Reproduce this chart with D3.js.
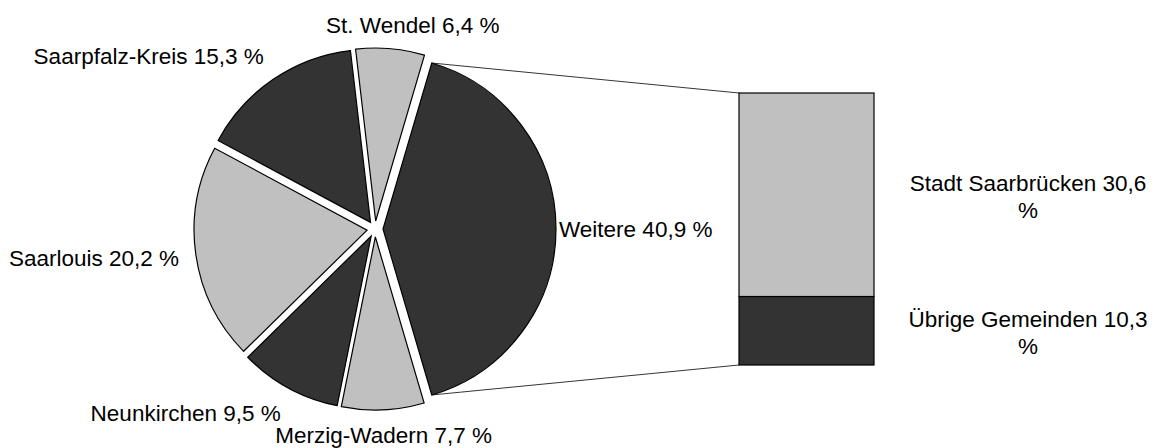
<!DOCTYPE html>
<html>
  <head>
    <meta charset="UTF-8" />
    <script src="https://d3js.org/d3.v7.min.js"></script>
    <style>
      body { margin: 0; background: #fff; }
      svg { font-family: "Liberation Sans", Arial, sans-serif; }
      .label { font-size: 22.5px; fill: #000; }
    </style>
  </head>
  <body>
    <div id="chart"></div>
    <script>
      // pie slices (clockwise, starting with the split-off slice)
      var pieNames  = ["Weitere", "Merzig-Wadern", "Neunkirchen", "Saarlouis", "Saarpfalz-Kreis", "St. Wendel"];
      var pieValues = [40.9, 7.7, 9.5, 20.2, 15.3, 6.4];
      var pieLabels = ["40,9", "7,7", "9,5", "20,2", "15,3", "6,4"];

      // stacked bar for "Weitere" (bottom to top)
      var barNames  = ["Übrige Gemeinden", "Stadt Saarbrücken"];
      var barValues = [10.3, 30.6];
      var barLabels = ["10,3", "30,6"];

      var width = 1162, height = 448;
      var cx = 375, cy = 229, radius = 173, explode = 8;
      var dark = "#333333", light = "#c0c0c0";

      var svg = d3.select("#chart").append("svg")
        .attr("width", width)
        .attr("height", height);

      /* Pie */
      var total = d3.sum(pieValues);
      var half = Math.PI * pieValues[0] / total;
      var pie = d3.pie().sort(null)
        .startAngle(Math.PI / 2 - half)
        .endAngle(Math.PI / 2 - half + 2 * Math.PI);
      var arcs = pie(pieValues);
      var arc = d3.arc().innerRadius(0).outerRadius(radius);

      function offset(d) {
        var m = (d.startAngle + d.endAngle) / 2;
        return [Math.sin(m) * explode, -Math.cos(m) * explode];
      }

      var pieG = svg.append("g").attr("transform", `translate(${cx}, ${cy})`);

      pieG.selectAll("path")
        .data(arcs).enter()
        .append("path")
        .attr("d", arc)
        .attr("transform", d => `translate(${offset(d)[0]}, ${offset(d)[1]})`)
        .style("fill", (d, i) => i % 2 == 0 ? dark : light)
        .style("stroke", "#000")
        .style("stroke-width", 1.2);

      // small manual tweaks where the original layout moved a label
      var nudge = { "Weitere": [-14, 0], "St. Wendel": [21, 4], "Merzig-Wadern": [0, -3] };

      var labelR = radius + 25;
      pieG.selectAll("text")
        .data(arcs).enter()
        .append("text")
        .attr("class", "label")
        .each(function(d, i) {
          var m = (d.startAngle + d.endAngle) / 2;
          var dx = Math.sin(m), dy = -Math.cos(m);
          var n = nudge[pieNames[i]] || [0, 0];
          var x = dx * labelR + n[0];
          var y = dy * labelR + dy * 11 + n[1];
          d3.select(this)
            .attr("x", x)
            .attr("y", y)
            .attr("dy", "0.35em")
            .attr("text-anchor", dx > 0.3 ? "start" : (dx < -0.3 ? "end" : "middle"))
            .text(pieNames[i] + " " + pieLabels[i] + " %");
        });

      /* Bar */
      var barX = 739, barW = 135;
      var yScale = d3.scaleLinear()
        .domain([0, d3.sum(barValues)])
        .range([365, 93]);

      var stackData = [];
      var acc = 0;
      barValues.forEach(function(v, i) {
        stackData.push({ name: barNames[i], label: barLabels[i], y0: acc, y1: acc + v });
        acc += v;
      });

      // connector lines from the split slice to the bar
      var w = arcs[0], wo = offset(w);
      var pTop = [cx + wo[0] + Math.sin(w.startAngle) * radius, cy + wo[1] - Math.cos(w.startAngle) * radius];
      var pBot = [cx + wo[0] + Math.sin(w.endAngle) * radius, cy + wo[1] - Math.cos(w.endAngle) * radius];

      svg.append("line")
        .attr("x1", pTop[0]).attr("y1", pTop[1])
        .attr("x2", barX).attr("y2", yScale(d3.sum(barValues)))
        .style("stroke", "#000").style("stroke-width", 0.8);
      svg.append("line")
        .attr("x1", pBot[0]).attr("y1", pBot[1])
        .attr("x2", barX).attr("y2", yScale(0))
        .style("stroke", "#000").style("stroke-width", 0.8);

      svg.selectAll(".seg")
        .data(stackData).enter()
        .append("rect")
        .attr("class", "seg")
        .attr("x", barX)
        .attr("y", d => yScale(d.y1))
        .attr("width", barW)
        .attr("height", d => yScale(d.y0) - yScale(d.y1))
        .style("fill", (d, i) => i == 0 ? dark : light)
        .style("stroke", "#000")
        .style("stroke-width", 1.2);

      var lineH = 27;
      var barText = svg.selectAll(".barlabel")
        .data(stackData).enter()
        .append("text")
        .attr("class", "label barlabel")
        .attr("text-anchor", "middle")
        .attr("y", d => (yScale(d.y0) + yScale(d.y1)) / 2 - lineH / 2 + 2);

      barText.append("tspan")
        .attr("x", 1028)
        .attr("dy", "0.35em")
        .text(d => d.name + " " + d.label);
      barText.append("tspan")
        .attr("x", 1028)
        .attr("dy", lineH)
        .text("%");
    </script>
  </body>
</html>
